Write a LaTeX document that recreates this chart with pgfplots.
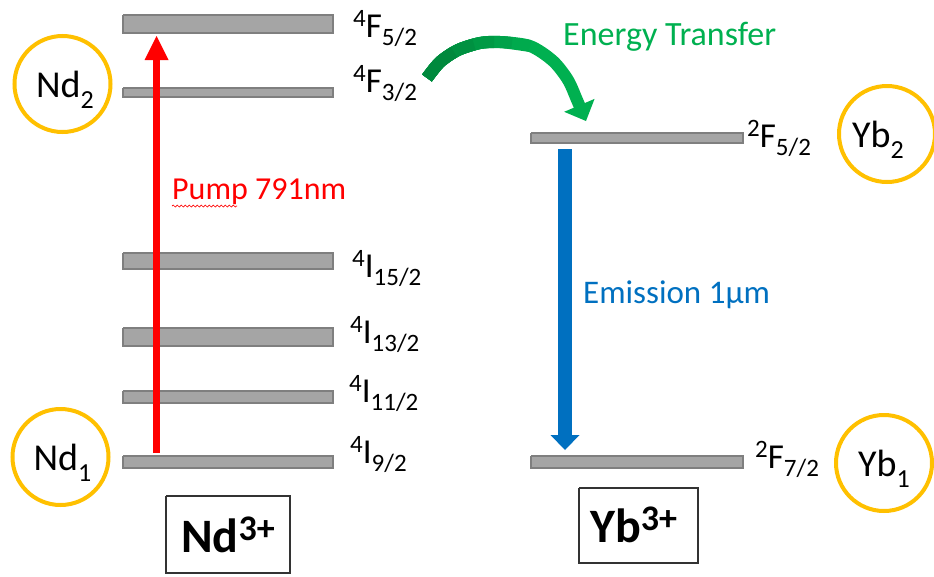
\documentclass[border=0pt]{standalone}
\usepackage{pgfplots}
\pgfplotsset{compat=1.18}
\usepackage{fontspec}
\setmainfont{Carlito}
\usetikzlibrary{arrows.meta,decorations.pathmorphing}
\definecolor{barfill}{HTML}{A5A5A5}
\definecolor{bardraw}{HTML}{7F7F7F}
\definecolor{ring}{HTML}{FFC000}
\definecolor{pumpred}{HTML}{FF0000}
\definecolor{emblue}{HTML}{0070C0}
\definecolor{etgreen}{HTML}{00B050}
\definecolor{etA}{HTML}{00AA4D}
\definecolor{etB}{HTML}{00A24A}
\definecolor{etC}{HTML}{009A45}
\definecolor{etD}{HTML}{009141}
\definecolor{etE}{HTML}{00893D}
\newcommand\lbl{\fontsize{35}{38}\selectfont}
\newcommand\lv[3]{\raisebox{0.3em}{\fontsize{25}{25}\selectfont #1}#2\raisebox{-0.24em}{\fontsize{25}{25}\selectfont #3}}
\newcommand\ci[2]{#1\raisebox{-0.3em}{\fontsize{26}{26}\selectfont #2}}
\newcommand\ion[1]{#1\raisebox{0.24em}{\fontsize{36}{36}\selectfont 3+}}
\begin{document}
\begin{tikzpicture}
\begin{axis}[width=934pt,height=576pt,scale only axis,
  xmin=0,xmax=934,ymin=0,ymax=576,y dir=reverse,hide axis,clip=true]
% Nd3+ levels
\addplot[fill=barfill,draw=bardraw,line width=1.5pt] coordinates {(123,15)(333,15)(333,33)(123,33)(123,15)};
\addplot[fill=barfill,draw=bardraw,line width=1.5pt] coordinates {(123,88)(333,88)(333,97)(123,97)(123,88)};
\addplot[fill=barfill,draw=bardraw,line width=1.5pt] coordinates {(123,253)(333,253)(333,269)(123,269)(123,253)};
\addplot[fill=barfill,draw=bardraw,line width=1.5pt] coordinates {(123,328)(333,328)(333,346)(123,346)(123,328)};
\addplot[fill=barfill,draw=bardraw,line width=1.5pt] coordinates {(123,391)(333,391)(333,403)(123,403)(123,391)};
\addplot[fill=barfill,draw=bardraw,line width=1.5pt] coordinates {(123,456)(333,456)(333,468)(123,468)(123,456)};
% Yb3+ levels
\addplot[fill=barfill,draw=bardraw,line width=1.5pt] coordinates {(531,133)(743,133)(743,143)(531,143)(531,133)};
\addplot[fill=barfill,draw=bardraw,line width=1.5pt] coordinates {(531,456)(743,456)(743,468)(531,468)(531,456)};
% pump arrow
\addplot[pumpred,line width=7pt,-{Triangle[width=24pt,length=24pt,line width=0pt]}] coordinates {(156.5,453)(156.5,36)};
% emission arrow
\addplot[emblue,line width=14pt,-{Triangle[width=29pt,length=15pt,line width=0pt]}] coordinates {(565,149)(565,450)};
% energy transfer arrow (stepped gradient)
\addplot[etgreen,line width=12pt,smooth,-{Triangle[width=33pt,length=17pt,line width=0pt]}] coordinates {(427,78)(440,62)(458,50)(480,43)(500,42)(530,46)(553,61)(568,80)(577,100)(586,121)};
\addplot[etA,line width=12pt,smooth] coordinates {(427,78)(440,62)(458,50)(480,43)(500,42)(530,46)};
\addplot[etB,line width=12pt,smooth] coordinates {(427,78)(440,62)(458,50)(480,43)(500,42)(512,43)};
\addplot[etC,line width=12pt,smooth] coordinates {(427,78)(440,62)(458,50)(480,43)(494,42)};
\addplot[etD,line width=12pt,smooth] coordinates {(427,78)(440,62)(458,50)(474,44.5)};
\addplot[etE,line width=12pt,smooth] coordinates {(427,78)(440,62)(454,52)};
% circles
\addplot[only marks,mark=o,mark size=48pt,mark options={draw=ring,line width=4pt}] coordinates {(62.5,84)(60.5,457)(887,134)(884,463)};
% boxes
\addplot[black!80,line width=1.2pt] coordinates {(166,496)(290,496)(290,573)(166,573)(166,496)};
\addplot[black!80,line width=1.2pt] coordinates {(579,488)(698,488)(698,563)(579,563)(579,488)};
% wavy underline
\addplot[pumpred,line width=0.7pt,decorate,decoration={snake,amplitude=1pt,segment length=4pt}] coordinates {(172,206)(237,206)};
% level labels
\node[anchor=base west,font=\lbl,inner sep=0pt] at (353,37) {\lv{4}{F}{5/2}};
\node[anchor=base west,font=\lbl,inner sep=0pt] at (353,92) {\lv{4}{F}{3/2}};
\node[anchor=base west,font=\lbl,inner sep=0pt] at (352,277) {\lv{4}{I}{15/2}};
\node[anchor=base west,font=\lbl,inner sep=0pt] at (350,343) {\lv{4}{I}{13/2}};
\node[anchor=base west,font=\lbl,inner sep=0pt] at (349,402) {\lv{4}{I}{11/2}};
\node[anchor=base west,font=\lbl,inner sep=0pt] at (350,463) {\lv{4}{I}{9/2}};
\node[anchor=base west,font=\lbl,inner sep=0pt] at (747,147) {\lv{2}{F}{5/2}};
\node[anchor=base west,font=\lbl,inner sep=0pt] at (755,468) {\lv{2}{F}{7/2}};
% circle labels
\node[anchor=base,font=\fontsize{38}{42}\selectfont,inner sep=0pt] at (65,97) {\ci{Nd}{2}};
\node[anchor=base,font=\fontsize{38}{42}\selectfont,inner sep=0pt] at (62.5,470) {\ci{Nd}{1}};
\node[anchor=base,font=\fontsize{38}{42}\selectfont,inner sep=0pt] at (878,147) {\ci{Yb}{2}};
\node[anchor=base,font=\fontsize{38}{42}\selectfont,inner sep=0pt] at (884,476) {\ci{Yb}{1}};
% arrow labels
\node[anchor=base west,font=\fontsize{32}{36}\selectfont,text=pumpred,inner sep=0pt] at (172,199) {Pump 791nm};
\node[anchor=base west,font=\fontsize{34}{38}\selectfont,text=etgreen,inner sep=0pt] at (563,45) {Energy Transfer};
\node[anchor=base west,font=\fontsize{33}{37}\selectfont,text=emblue,inner sep=0pt] at (583,303) {Emission 1µm};
% ion labels
\node[anchor=base west,font=\fontsize{48}{52}\selectfont\bfseries,inner sep=0pt] at (181,552) {\ion{Nd}};
\node[anchor=base west,font=\fontsize{48}{52}\selectfont\bfseries,inner sep=0pt] at (590,542) {\ion{Yb}};
\end{axis}
\pgfresetboundingbox
\useasboundingbox (0,0) rectangle (934pt,576pt);
\end{tikzpicture}
\end{document}
